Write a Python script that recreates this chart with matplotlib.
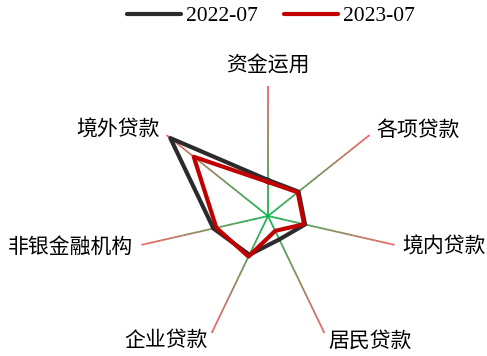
import numpy as np
import matplotlib.pyplot as plt
from matplotlib.collections import LineCollection
from matplotlib.colors import LinearSegmentedColormap

plt.rcParams['font.family'] = ['Noto Sans CJK SC', 'DejaVu Sans']

# 指标与数据 (按图读数, 半径最大值 130)
indicators = ['资金运用', '各项贷款', '境内贷款', '居民贷款', '企业贷款', '非银金融机构', '境外贷款']
series_names = ['2022-07', '2023-07']
v2022 = [36, 39, 38, 26, 43, 56, 125]
v2023 = [34, 38, 37, 16.5, 45, 53, 95]
r_max = 130

n = len(indicators)
theta = np.arange(n) * 2 * np.pi / n

fig = plt.figure(figsize=(4.87, 3.56), dpi=100)
ax = fig.add_axes([0.2834, 0.0281, 0.5339, 0.7303], projection='polar')
ax.set_theta_zero_location('N')
ax.set_theta_direction(-1)
ax.set_ylim(0, r_max)
ax.grid(False)
ax.set_xticks([])
ax.set_yticks([])
ax.spines['polar'].set_visible(False)
ax.patch.set_alpha(0)

# 渐变轴线: 中心绿色 -> 外端红色
cmap = LinearSegmentedColormap.from_list('axg', ['#14b450', '#f06464'])
steps = np.linspace(0, r_max, 40)
for t in theta:
    pts = np.column_stack([np.full_like(steps, t), steps])
    segs = [pts[i:i + 2] for i in range(len(pts) - 1)]
    lc = LineCollection(segs, cmap=cmap, linewidths=1.3, zorder=1)
    lc.set_array(steps[:-1] / r_max)
    ax.add_collection(lc)

tc = np.append(theta, theta[0])
ax.plot(tc, v2022 + v2022[:1], color='#2b2b2e', lw=3, zorder=3, label=series_names[0])
ax.plot(tc, v2023 + v2023[:1], color='#c00000', lw=3, zorder=4, label=series_names[1])

# 指标名称
for t, name in zip(theta, indicators):
    s = np.sin(t)
    if abs(s) < 1e-6:
        ax.text(t, 139, name, ha='center', va='bottom', fontsize=15, clip_on=False)
    else:
        ax.text(t, 138, name, ha='left' if s > 0 else 'right', va='center',
                fontsize=15, clip_on=False)

leg = fig.legend(loc='center', bbox_to_anchor=(0.557, 0.955), ncol=2, frameon=False,
                 prop={'family': 'Liberation Serif', 'size': 15.5},
                 handlelength=2.5, handletextpad=0.25, columnspacing=1.2)
for h in leg.get_lines():
    h.set_solid_capstyle('round')

fig.savefig('out.png', dpi=100)
